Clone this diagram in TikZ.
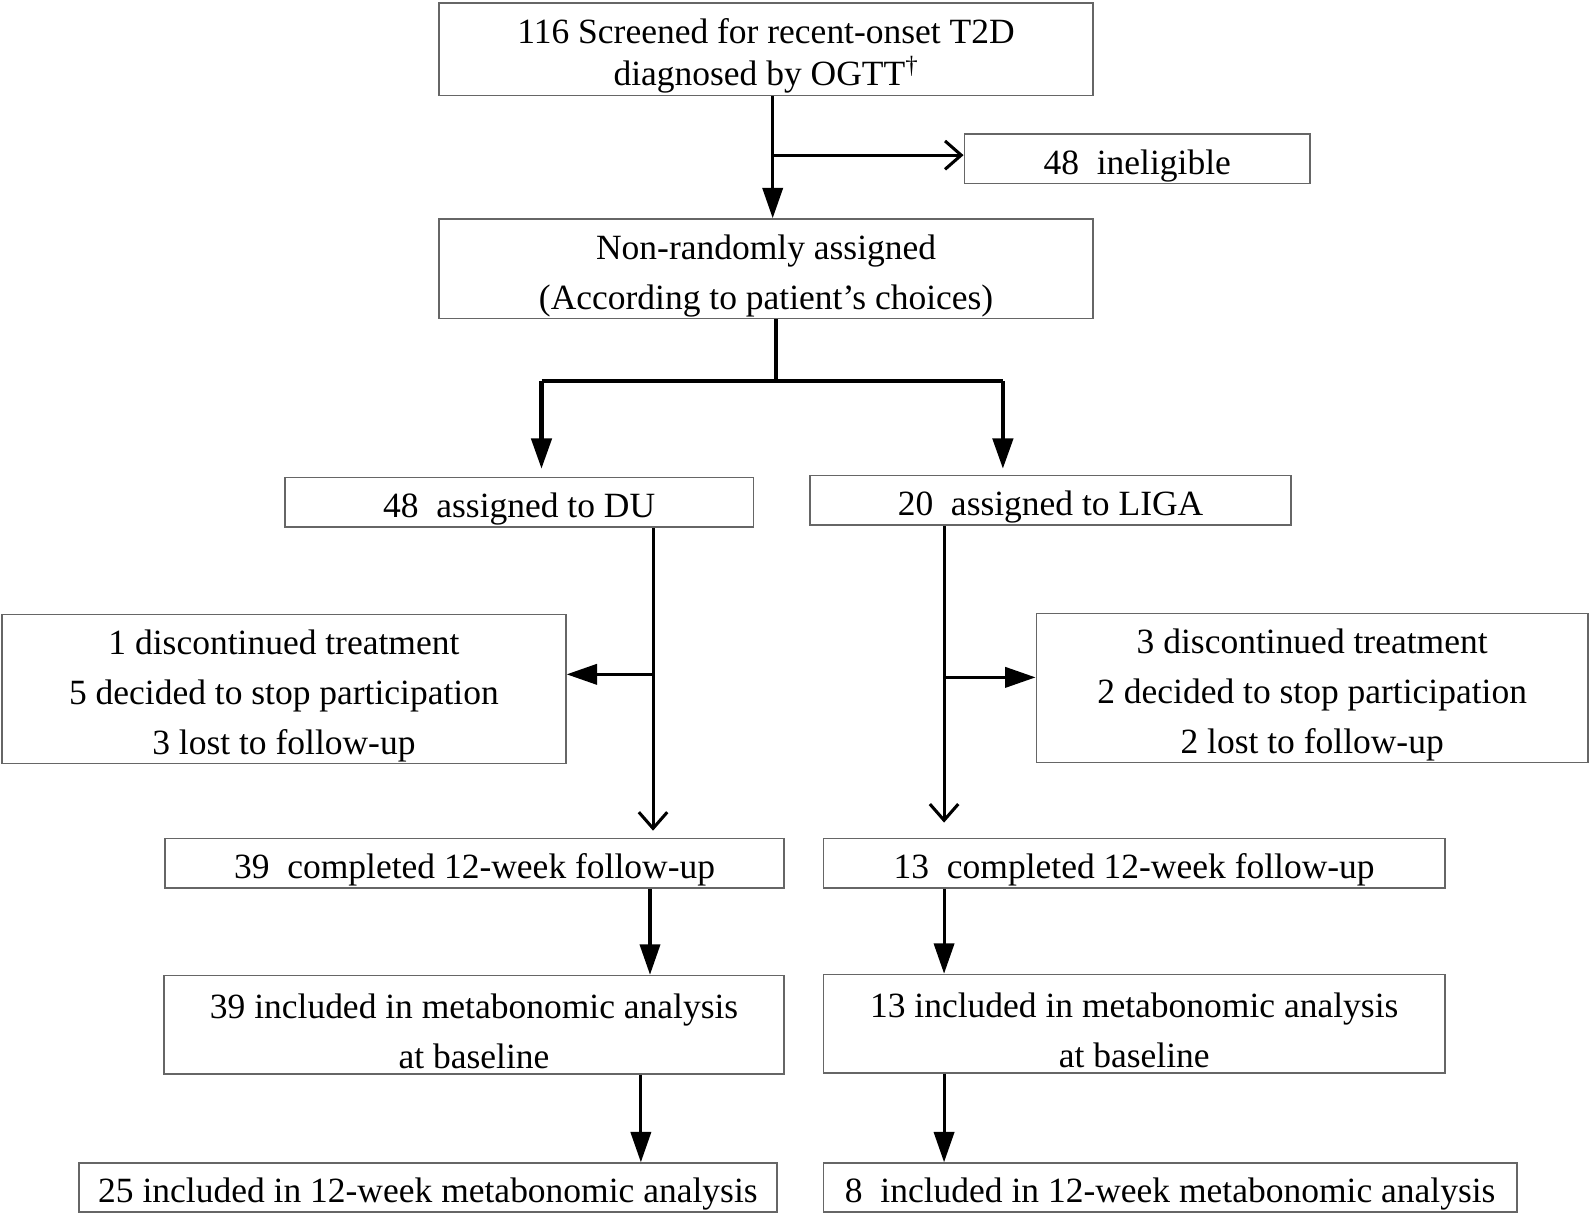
\documentclass[tikz,border=0pt]{standalone}
\usepackage{fontspec}
\setmainfont{Liberation Serif}
\usetikzlibrary{arrows.meta}
\newcommand{\topstrut}{\rule{0pt}{19pt}}
\begin{document}
\begin{tikzpicture}[x=0.5pt,y=-0.5pt]
\tikzset{
  box/.style={draw=black!60,line width=0.8pt,align=center,inner sep=0pt,
    font=\fontsize{17.5}{24.5}\selectfont,
    execute at begin node={\topstrut}},
  fillarrow/.style={-{Triangle[length=15pt,width=10pt]},line width=1.5pt},
  openarrow/.style={-{Straight Barb[length=8pt,width=14pt]},line width=1.5pt},
  splitline/.style={line width=2pt}
}
\useasboundingbox (0,0) rectangle (1568,1199);

% caixas (coluna central no topo)
\node[box,minimum width=322.5pt,minimum height=45.5pt,
  font=\fontsize{17.5}{21}\selectfont] (screen) at (755.5,48.5)
  {\topstrut 116 Screened for recent-onset T2D\\diagnosed by OGTT\textsuperscript{†}};
\node[box,minimum width=170.5pt,minimum height=24.5pt] (inel) at (1121.5,156.5) {48\ \ ineligible};
\node[box,minimum width=322.5pt,minimum height=49pt] (assign) at (755.5,265)
  {\topstrut Non-randomly assigned\\(According to patient’s choices)};

% caixas DU (esquerda)
\node[box,minimum width=231pt,minimum height=24.5pt] (du) at (512,495.5) {48\ \ assigned to DU};
\node[box,minimum width=278pt,minimum height=73.5pt] (duexcl) at (280,679.5)
  {\topstrut 1 discontinued treatment\\5 decided to stop participation\\3 lost to follow-up};
\node[box,minimum width=305pt,minimum height=24.5pt] (ducomp) at (468,851.5) {39\ \ completed 12-week follow-up};
\node[box,minimum width=305.5pt,minimum height=48.5pt] (dubase) at (467.5,1010.5)
  {\topstrut 39 included in metabonomic analysis\\at baseline};
\node[box,minimum width=344pt,minimum height=24pt] (duend) at (422,1171) {25 included in 12-week metabonomic analysis};

% caixas LIGA (direita)
\node[box,minimum width=237pt,minimum height=24.5pt] (liga) at (1036,493.5) {20\ \ assigned to LIGA};
\node[box,minimum width=272pt,minimum height=73.5pt] (ligaexcl) at (1294,678.5)
  {\topstrut 3 discontinued treatment\\2 decided to stop participation\\2 lost to follow-up};
\node[box,minimum width=306.5pt,minimum height=24.5pt] (ligacomp) at (1118.5,851.5) {13\ \ completed 12-week follow-up};
\node[box,minimum width=306.5pt,minimum height=48.5pt] (ligabase) at (1118.5,1009.5)
  {\topstrut 13 included in metabonomic analysis\\at baseline};
\node[box,minimum width=342pt,minimum height=24pt] (ligaend) at (1154,1171) {8\ \ included in 12-week metabonomic analysis};

% pontos de junção
\coordinate (j1) at (762,153);
\coordinate (j2) at (765,376);
\coordinate (jl) at (534,376);
\coordinate (jr) at (989,376);
\coordinate (j3) at (644,665);
\coordinate (j4) at (931,668);
\coordinate (c1) at (641,0);
\coordinate (c2) at (632,0);

% setas do topo
\draw[fillarrow] (screen.south -| j1) -- (assign.north -| j1);
\draw[openarrow] (j1) -- (inel.west |- j1);

% divisão em dois grupos
\draw[splitline] (assign.south -| j2) -- (j2);
\draw[splitline] (jl) -- (jr);
\draw[fillarrow,line width=2pt,shorten >=4pt] (jl) -- (du.north -| jl);
\draw[fillarrow,line width=2pt,shorten >=3pt] (jr) -- (liga.north -| jr);

% ramo DU
\draw[openarrow,shorten >=3.5pt] (du.south -| j3) -- (ducomp.north -| j3);
\draw[fillarrow] (j3) -- (duexcl.east |- j3);
\draw[fillarrow] (ducomp.south -| c1) -- (dubase.north -| c1);
\draw[fillarrow] (dubase.south -| c2) -- (duend.north -| c2);

% ramo LIGA
\draw[openarrow,shorten >=7.5pt] (liga.south -| j4) -- (ligacomp.north -| j4);
\draw[fillarrow] (j4) -- (ligaexcl.west |- j4);
\draw[fillarrow] (ligacomp.south -| j4) -- (ligabase.north -| j4);
\draw[fillarrow] (ligabase.south -| j4) -- (ligaend.north -| j4);
\end{tikzpicture}
\end{document}
